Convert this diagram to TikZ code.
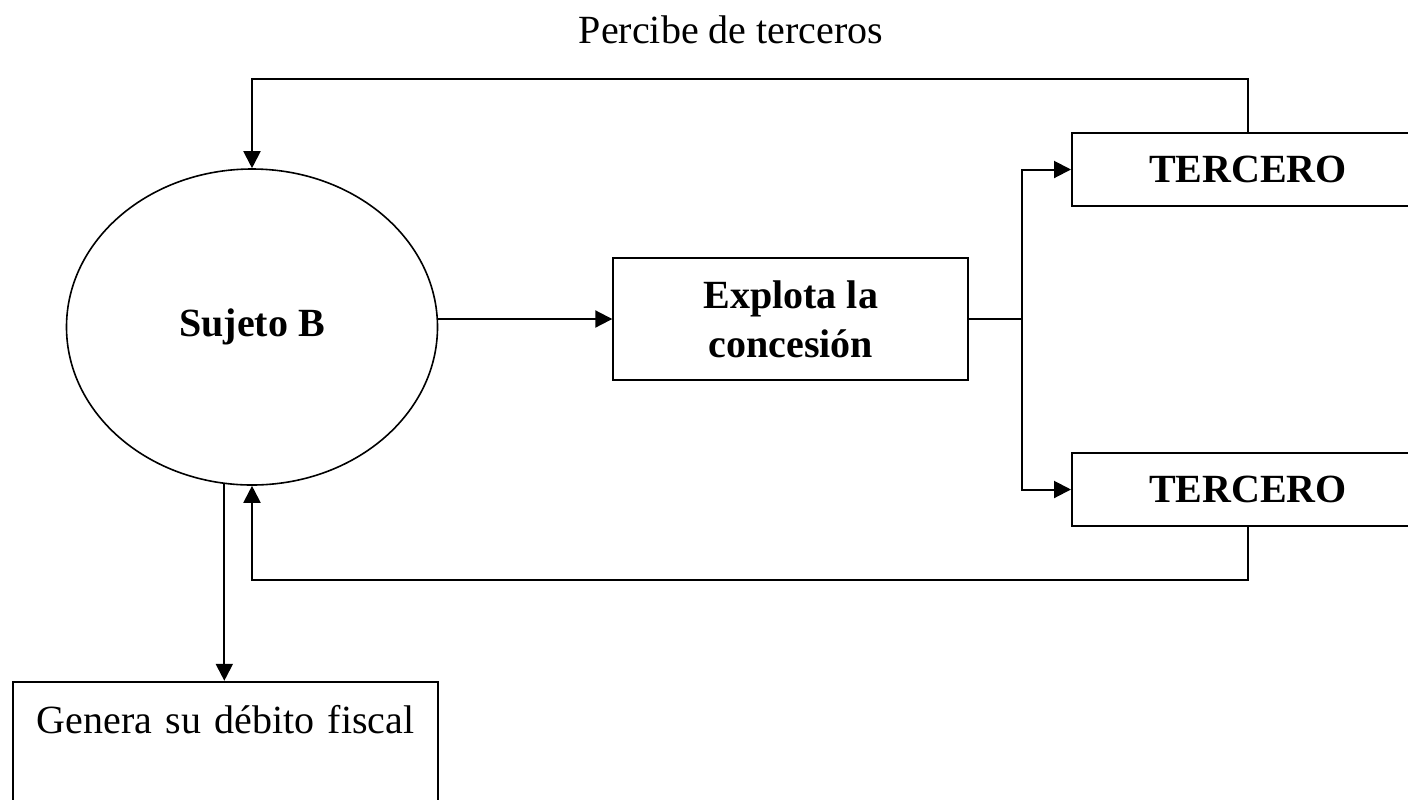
\documentclass[tikz,border=0pt]{standalone}
\usepackage{fontspec}
\setmainfont{Liberation Serif}
\usetikzlibrary{shapes,arrows.meta,positioning,calc}
\tikzset{
    block/.style={rectangle, draw, line width=1pt, inner sep=0pt, align=center, font=\bfseries},
    bubble/.style={ellipse, draw, line width=0.8pt, minimum width=185.5pt, minimum height=158pt, inner sep=0pt, font=\bfseries},
    line/.style={draw, line width=1pt, -{Triangle[length=8.5pt, width=8.5pt]}}
}
\begin{document}
\fontsize{20pt}{24.5pt}\selectfont
\begin{tikzpicture}[x=0.5pt, y=-0.5pt]
    \useasboundingbox (0,0) rectangle (1408,799);

    % Subject and concession
    \node [bubble] (sujeto) at (252,327) {Sujeto B};
    \node [block, minimum width=177.5pt, minimum height=61pt, right=87pt of sujeto, yshift=4pt] (explota) {Explota la\\concesión};

    % Third parties
    \node [block, minimum width=176pt, minimum height=36.5pt] (tercero1) at (1248,169.5) {TERCERO};
    \node [block, minimum width=176pt, minimum height=36.5pt, below=122.5pt of tercero1] (tercero2) {TERCERO};

    % Result
    \node [block, font=\mdseries, text width=212.5pt, inner ysep=12pt, below=97.5pt of sujeto, xshift=-13.25pt] (genera) {Genera su débito fiscal\\[60pt]\mbox{}};

    % Label
    \node (percibe) at (731,30) {Percibe de terceros};

    % Connectors
    \coordinate [right=26.5pt of explota.east] (rama);
    \draw [line] (sujeto.east |- explota.west) -- (explota.west);
    \draw [line width=1pt] (explota.east) -- (rama);
    \draw [line] (rama) |- (tercero1.west);
    \draw [line] (rama) |- (tercero2.west);
    \draw [line] (tercero1.north) -- ++(0,-53) -| (sujeto.north);
    \draw [line] (tercero2.south) -- ++(0,53) -| (sujeto.south);
    \draw [line] (sujeto.260) -- (sujeto.260 |- genera.north);
\end{tikzpicture}
\end{document}
